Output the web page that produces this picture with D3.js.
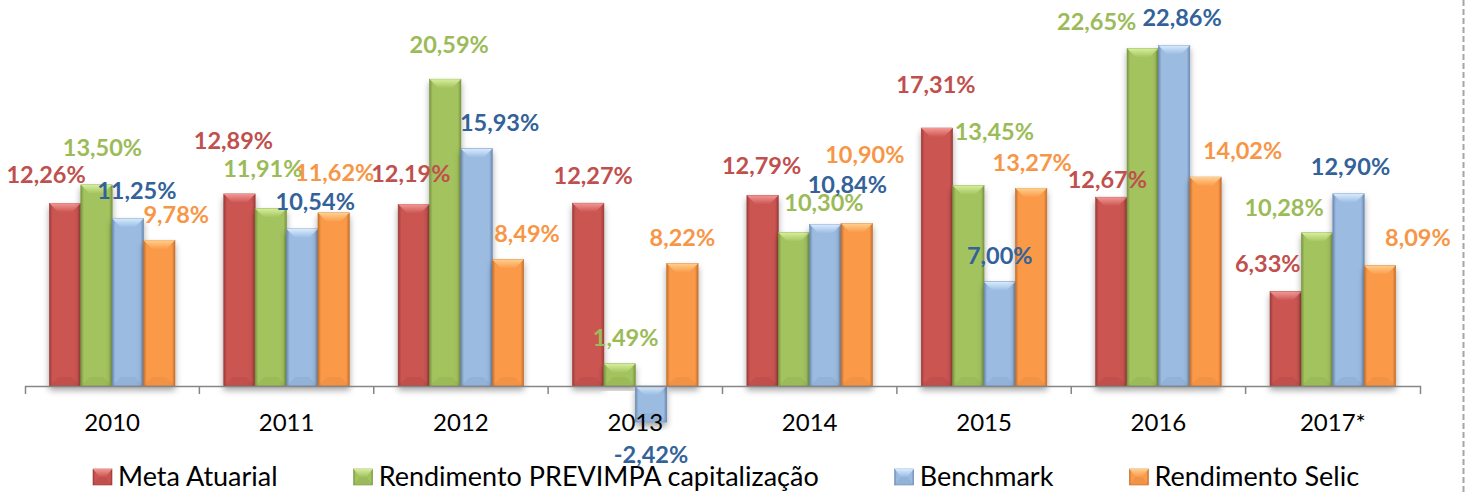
<!DOCTYPE html>
<html>
<head>
<meta charset="utf-8">
<script src="https://cdn.jsdelivr.net/npm/d3@7"></script>
<style>
	body { margin: 0; background: #fff; }
	svg { display: block; }
</style>
</head>
<body>
<svg id="chart" width="1465" height="492"></svg>
<script>
// values, in percent
const years = ["2010", "2011", "2012", "2013", "2014", "2015", "2016", "2017*"];
const seriesNames = ["Meta Atuarial", "Rendimento PREVIMPA capitalização", "Benchmark", "Rendimento Selic"];
const metaAtuarial = [12.26, 12.89, 12.19, 12.27, 12.79, 17.31, 12.67, 6.33];
const rendimentoPrevimpa = [13.50, 11.91, 20.59, 1.49, 10.30, 13.45, 22.65, 10.28];
const benchmark = [11.25, 10.54, 15.93, -2.42, 10.84, 7.00, 22.86, 12.90];
const rendimentoSelic = [9.78, 11.62, 8.49, 8.22, 10.90, 13.27, 14.02, 8.09];

// hand placed data labels in the original, as offsets from the end of each bar
const labelNudge = [
	[[-19, -29], [-6, -53], [-3, -31], [5, -28], [-1, -30], [-1, -44], [-4, -18], [-18, -28]],
	[[6, -37], [-8, -40], [4, -35], [6, -26], [30, -30], [26, -54], [-46, -27], [-33, -25]],
	[[9, -28], [13, -27], [23, -26], [0, 32], [22, -40], [0, -26], [8, -28], [2, -27]],
	[[17, -26], [1, -40], [19, -26], [0, -26], [8, -69], [1, -26], [37, -27], [38, -28]]
];

const allSeries = [metaAtuarial, rendimentoPrevimpa, benchmark, rendimentoSelic];

const styles = [
	{face: "#cb5451", edge: "#9c3c39", light: "#f29894", label: "#c0504d"},
	{face: "#a3c35f", edge: "#7a9642", light: "#d6ef9a", label: "#9bbb59"},
	{face: "#9bbbe1", edge: "#6b8ab3", light: "#d8ecff", label: "#33629a"},
	{face: "#fa9a4a", edge: "#c56f2c", light: "#ffd08e", label: "#f79646"}
];

const locale = d3.formatLocale({decimal: ",", thousands: ".", grouping: [3], currency: ["R$", ""], minus: "-"});
const fmt = v => locale.format(".2f")(v) + "%";

const svg = d3.select("#chart");
const defs = svg.append("defs");

styles.forEach((s, i) => {
	const g = defs.append("linearGradient").attr("id", `face${i}`)
	.attr("x1", 0).attr("x2", 1).attr("y1", 0).attr("y2", 0);
	g.append("stop").attr("offset", 0).attr("stop-color", s.edge);
	g.append("stop").attr("offset", 0.1).attr("stop-color", s.face);
	g.append("stop").attr("offset", 0.9).attr("stop-color", s.face);
	g.append("stop").attr("offset", 1).attr("stop-color", s.edge);

	const t = defs.append("linearGradient").attr("id", `top${i}`)
	.attr("x1", 0).attr("x2", 0).attr("y1", 0).attr("y2", 1);
	t.append("stop").attr("offset", 0).attr("stop-color", s.light);
	t.append("stop").attr("offset", 1).attr("stop-color", s.face);
});

const shadow = defs.append("filter").attr("id", "shadow")
.attr("x", "-30%").attr("y", "-10%").attr("width", "160%").attr("height", "130%");
shadow.append("feDropShadow")
.attr("dx", 0).attr("dy", 4).attr("stdDeviation", 3)
.attr("flood-color", "#000").attr("flood-opacity", 0.35);

const baseY = 386;
const x0 = d3.scaleBand().domain(years).range([25, 1420]).padding(0);
const x1 = d3.scaleBand().domain(d3.range(4)).range([0, x0.bandwidth()])
.paddingInner(0).paddingOuter(0.777);
const y = d3.scaleLinear().domain([0, 25]).range([baseY, baseY - 25 * 14.9]);

// dashed border at the right edge
svg.append("line")
.attr("x1", 1463.5).attr("x2", 1463.5).attr("y1", 0).attr("y2", 492)
.attr("stroke", "#a6a6a6").attr("stroke-width", 2).attr("stroke-dasharray", "6,3");

function drawBar(sel, i, w, h) {
	sel.append("rect")
	.attr("width", w).attr("height", h)
	.attr("fill", `url(#face${i})`)
	.attr("stroke", styles[i].edge).attr("stroke-width", 0.6);
	const b = Math.min(9, h / 2);
	const bx = Math.min(b, w * 0.33);
	sel.append("polygon")
	.attr("points", `0,0 ${w},0 ${w - bx},${b} ${bx},${b}`)
	.attr("fill", `url(#top${i})`);
	sel.append("polygon")
	.attr("points", `0,${h} ${w},${h} ${w - bx},${h - b} ${bx},${h - b}`)
	.attr("fill", styles[i].edge).attr("opacity", 0.18);
}

const bars = svg.append("g");
years.forEach((yr, c) => {
	allSeries.forEach((vals, s) => {
		const v = vals[c];
		const top = Math.min(y(v), y(0));
		const h = Math.abs(y(v) - y(0));
		const g = bars.append("g")
		.attr("transform", `translate(${x0(yr) + x1(s)}, ${top})`)
		.attr("filter", "url(#shadow)");
		drawBar(g, s, x1.bandwidth(), h);
	});
});

// axis
const axis = svg.append("g")
.attr("transform", `translate(0, ${baseY})`)
.call(d3.axisBottom(x0).tickSize(0).tickSizeOuter(8));
axis.select(".domain").attr("stroke", "#868686").attr("stroke-width", 1.5);
axis.selectAll(".tick text")
.attr("y", 45).attr("dy", null)
.attr("font-family", "Lato, sans-serif").attr("font-size", 24).attr("fill", "#000");

axis.selectAll(".sep")
.data(years.slice(1))
.join("line")
.attr("class", "sep")
.attr("x1", d => x0(d)).attr("x2", d => x0(d))
.attr("y1", 0).attr("y2", 8)
.attr("stroke", "#868686").attr("stroke-width", 1.5);

// data labels
const labels = svg.append("g")
.attr("font-family", "Lato, sans-serif").attr("font-weight", "bold").attr("font-size", 23.5)
.attr("text-anchor", "middle");
years.forEach((yr, c) => {
	allSeries.forEach((vals, s) => {
		const v = vals[c];
		const [dx, dy] = labelNudge[s][c];
		labels.append("text")
		.attr("x", x0(yr) + x1(s) + x1.bandwidth() / 2 + dx)
		.attr("y", y(v) + dy)
		.attr("dy", "0.36em")
		.attr("fill", styles[s].label)
		.text(fmt(v));
	});
});

// legend
const legend = svg.append("g").attr("transform", "translate(93, 486)");
let lx = 0;
seriesNames.forEach((name, i) => {
	const item = legend.append("g").attr("transform", `translate(${lx}, 0)`);
	const m = item.append("g").attr("transform", "translate(0, -17)");
	drawBar(m, i, 19, 16);
	const t = item.append("text")
	.attr("x", 25).attr("y", 0)
	.attr("font-family", "Lato, sans-serif").attr("font-size", 27).attr("fill", "#000")
	.text(name);
	lx += 25 + t.node().getComputedTextLength() + 76;
});
</script>
</body>
</html>
